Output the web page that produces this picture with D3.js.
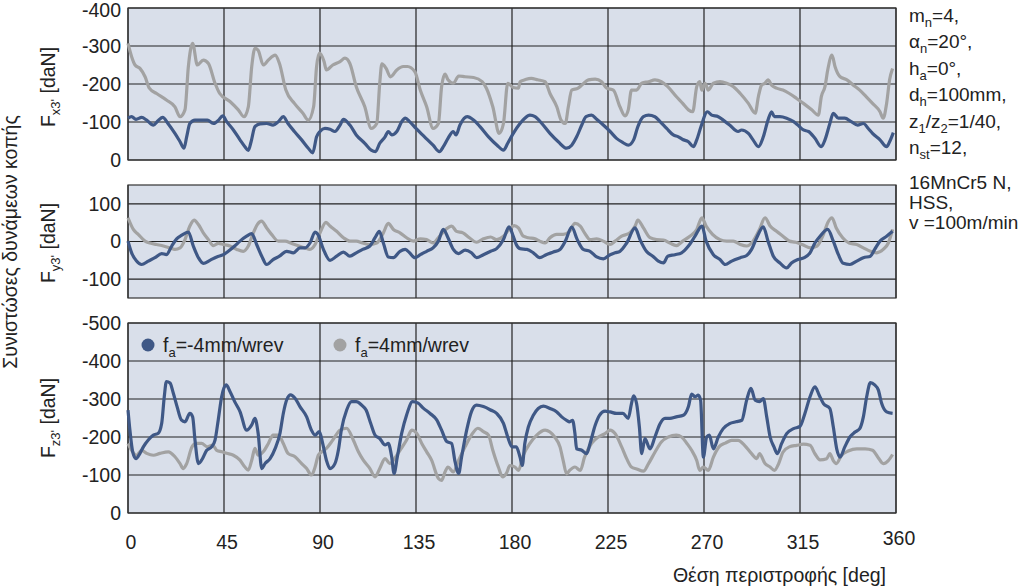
<!DOCTYPE html>
<html>
<head>
<meta charset="utf-8">
<script src="https://cdn.jsdelivr.net/npm/d3@7"></script>
<style>
  body { margin: 0; background: #fff; }
  text { font-family: "Liberation Sans", Arial, sans-serif; fill: #222; }
</style>
</head>
<body>
<svg width="1024" height="587"></svg>
<script>
// [angle deg, force daN]
let fxNeg = [[0,-110],[1.7,-114],[3.75,-107],[6.4,-112],[8.75,-105],[11.9,-92],[14.2,-104],[16.25,-112],[18.9,-95],[22,-70],[24.4,-48],[26.25,-31],[27.5,-61],[29,-96],[31.4,-105],[34.5,-105],[37.2,-105],[40,-96],[42.3,-104],[44.4,-116],[46.25,-101],[49.4,-79],[52.5,-53],[54.8,-35],[56.4,-25],[57.7,-48],[59.5,-88],[61.9,-95],[65,-96],[68,-92],[70.5,-101],[72.8,-114],[75,-96],[78,-75],[81.4,-53],[84.5,-31],[86.6,-19],[88.4,-61],[90,-75],[92.3,-83],[94.7,-81],[97,-75],[99.4,-92],[101,-107],[104,-92],[107,-66],[111,-44],[114,-26],[116,-22],[118,-44],[120.5,-61],[122,-75],[123.6,-66],[126,-75],[128.3,-101],[130,-110],[132,-101],[135,-83],[139,-61],[143,-39],[146,-22],[147.8,-35],[150,-57],[152.5,-75],[153.75,-66],[155.6,-92],[159,-114],[162,-105],[165,-88],[169,-61],[173,-39],[176,-26],[178,-44],[180.6,-70],[183.75,-96],[186,-110],[188.4,-118],[190.8,-114],[194,-96],[197.8,-70],[201.7,-48],[205.6,-31],[208,-39],[210.3,-61],[212.7,-92],[214.7,-114],[217.3,-118],[219.7,-107],[222.8,-92],[226,-75],[229,-57],[232,-46],[234.5,-39],[237,-53],[239,-88],[241.6,-114],[244,-118],[247,-114],[249.4,-101],[252.5,-83],[255.6,-66],[258,-61],[260,-54],[262.7,-48],[265,-35],[266.6,-53],[268.6,-88],[271.6,-127],[273.6,-118],[276.7,-114],[279,-105],[282,-92],[286,-75],[287.6,-79],[290.8,-70],[293,-53],[295.5,-35],[297.8,-61],[300,-105],[301.7,-127],[303,-114],[305.6,-114],[308.75,-110],[312,-101],[314,-92],[316.6,-79],[319,-75],[322,-57],[325,-35],[326.7,-53],[329,-96],[330.6,-123],[333,-110],[336,-110],[339,-101],[342,-92],[344.7,-96],[347,-83],[349,-70],[352.5,-53],[355.6,-35],[357,-48],[358.75,-72]];
let fxPos = [[0,-307],[1.7,-272],[3.3,-250],[5.6,-241],[8,-219],[10,-189],[13.4,-175],[18,-158],[22,-140],[24.4,-114],[26.7,-132],[28.3,-246],[30.3,-307],[32.5,-250],[35.3,-263],[37.7,-254],[40.8,-202],[43,-175],[47.8,-154],[51.7,-132],[54.4,-114],[56.4,-140],[58,-246],[59.5,-294],[61,-289],[63.4,-250],[65.8,-263],[69,-276],[71,-254],[74,-184],[78,-149],[82,-123],[84.5,-105],[87,-140],[88.4,-246],[89.7,-281],[91.9,-259],[93,-237],[96,-250],[99.4,-259],[101.7,-268],[104,-254],[107,-193],[111,-140],[114,-83],[116.6,-96],[118,-202],[119,-253],[121,-241],[123,-219],[126,-237],[129,-246],[131,-246],[134.5,-232],[137,-184],[140,-140],[143,-83],[145.5,-96],[147,-193],[148.6,-226],[150,-211],[152.5,-202],[155,-221],[158,-219],[162,-217],[166,-206],[168,-189],[171,-140],[174,-70],[176,-96],[178,-202],[180.6,-191],[183,-189],[183.8,-206],[186,-211],[189,-215],[192,-211],[195.5,-206],[197.8,-175],[201,-140],[203,-105],[205,-96],[206.4,-140],[208,-184],[211,-189],[212.7,-197],[215.8,-211],[219,-213],[222,-206],[224.4,-189],[227.5,-184],[230.6,-140],[233,-116],[234.5,-132],[236,-184],[238.4,-184],[240.8,-202],[244,-206],[247,-211],[250,-206],[253,-193],[257,-167],[260,-149],[262.7,-132],[264.7,-127],[266.6,-193],[268,-206],[269,-184],[270.5,-202],[272,-184],[274.4,-202],[277.5,-206],[280.6,-202],[283.8,-193],[287,-175],[290.8,-149],[294,-123],[295.5,-167],[297,-197],[298.6,-202],[300,-211],[301.7,-197],[304,-189],[307,-184],[310,-175],[313.4,-162],[316.6,-149],[320.5,-132],[323.6,-118],[325,-167],[326.7,-193],[328,-237],[330,-276],[331.4,-246],[333.8,-219],[337,-211],[340,-197],[343,-184],[346,-167],[349,-149],[352.5,-127],[354,-110],[355.6,-149],[357,-211],[358.4,-241]];

let fyNeg = [[0,1],[1.7,-30],[4,-52],[6.4,-61],[9.5,-52],[12.6,-43],[15.8,-32],[18,-35],[20.5,-12],[22.8,7],[25,16],[28.3,25],[30.6,-12],[33,-43],[35.3,-58],[38.4,-50],[41.6,-41],[44.7,-35],[47,-26],[50,-12],[52.5,1],[55.6,14],[58,21],[60.3,-8],[62.7,-39],[65,-61],[68,-48],[71,-39],[74.4,-26],[77.5,-30],[80.6,-17],[83,-17],[85.3,-4],[87.7,25],[89,19],[91.6,-21],[94.7,-50],[97.8,-39],[101,-28],[104,-39],[107,-30],[110,-21],[113.4,-12],[115.8,10],[117.8,27],[119.7,-4],[122,-41],[124.4,-43],[127.5,-26],[130,-21],[132,-30],[134.5,-43],[137,-35],[140,-26],[143,-17],[145.5,1],[147.8,32],[150,10],[152.5,-21],[155,-32],[158,-23],[161,-30],[163.4,-43],[166.6,-35],[170,-26],[172.8,-19],[176,5],[178.6,39],[180.6,14],[182,-8],[183.75,-19],[187,-21],[190,-30],[193,-43],[196,-35],[199.4,-28],[202.5,-21],[205,1],[208,38],[210.6,5],[213.4,-21],[216.6,-26],[219.7,-41],[222.8,-46],[226,-35],[228.3,-30],[230.6,-26],[233.75,-4],[237.7,36],[240,5],[243,-26],[246,-39],[248.6,-52],[251,-57],[253,-39],[256.4,-35],[259.5,-30],[262.7,-12],[265.8,14],[269,41],[271,1],[274.4,-35],[277.5,-48],[280,-61],[283,-52],[287,-43],[290,-37],[292.3,-21],[294.7,10],[297.8,39],[300,1],[302.5,-39],[305.6,-57],[308.75,-70],[311,-57],[314,-48],[317,-43],[319.7,-30],[322,-4],[324.4,14],[328,32],[330.6,1],[333,-35],[335.3,-58],[338.4,-61],[341.6,-52],[344.7,-43],[348,-39],[350,-21],[352.5,1],[355.6,14],[358.4,27]];
let fyPos = [[0,63],[2.5,32],[4.8,19],[8,1],[10.3,-4],[13.4,-8],[16.6,-12],[19.7,-17],[22,-21],[24.4,-17],[26.7,5],[29,41],[31,57],[33,45],[35.3,23],[37.7,5],[40,-11],[42.3,-5],[44.7,-8],[47.8,-12],[51,-21],[54,-26],[56.4,-12],[58.75,23],[60.6,45],[62.6,54],[65,36],[67.3,19],[70.5,1],[73.6,1],[76.7,-5],[79.8,-11],[83,-17],[85.3,-21],[87.7,-8],[90,23],[92.8,51],[94.7,41],[97.8,27],[101,10],[104,1],[107,1],[110,-4],[113,-8],[116.6,-4],[119.7,23],[122,48],[124.4,32],[127.5,23],[130.6,10],[133.75,1],[137,7],[140,5],[143,-4],[146,14],[149,32],[151.7,41],[154,27],[157,23],[160,10],[163.4,-2],[166.6,7],[170,12],[172.8,5],[176,14],[179,34],[181,42],[183,36],[185.3,14],[187.7,10],[190.8,7],[193,1],[195.5,-4],[197.8,10],[201,19],[204,19],[207,27],[209.5,48],[212,41],[214,23],[216.6,5],[219.7,7],[222.8,1],[226,-8],[228.3,1],[231.4,14],[235.3,23],[237.7,41],[239,57],[241.6,36],[244.7,10],[247.8,5],[251,4],[254,-4],[257,-11],[260,1],[263.4,14],[266.6,32],[269,63],[271,41],[274,19],[277.5,5],[280.6,1],[283.75,1],[287,-8],[290,-12],[293,1],[296,32],[298.6,63],[301,41],[304,27],[307,14],[310,1],[313,-2],[316,-8],[319.7,-17],[323,-12],[326,19],[328,50],[330,63],[332,36],[335,10],[338,-4],[341.6,-8],[344.7,-17],[348,-26],[351,-30],[354,-21],[356.4,-4],[358.4,32]];

let fzNeg = [[0,-271],[0.9,-218],[2.2,-161],[3.75,-143],[5.6,-157],[7.2,-174],[9.5,-192],[11.9,-205],[14.2,-210],[15.8,-236],[17,-306],[18,-346],[19.7,-342],[21.25,-315],[23,-280],[25,-245],[26.7,-240],[29,-262],[30.3,-253],[31.4,-192],[33,-130],[34.5,-139],[36.9,-165],[39.2,-174],[40.8,-192],[42.3,-245],[43.9,-306],[46,-337],[47.8,-320],[50,-293],[52.5,-267],[55.6,-218],[58,-232],[59.5,-249],[61,-210],[62.7,-117],[64.2,-130],[66.6,-143],[69,-170],[71.25,-210],[72.8,-262],[74.4,-298],[76.25,-311],[78.3,-302],[80.6,-280],[83.75,-253],[86,-218],[87.7,-205],[89.7,-214],[91.25,-183],[93,-139],[94.7,-117],[97,-130],[98.6,-165],[100,-218],[102.5,-271],[104.8,-293],[107,-293],[109.5,-284],[111.6,-271],[113.75,-236],[115.8,-205],[118,-196],[120.5,-179],[122,-183],[123.6,-148],[124.7,-104],[126.25,-148],[128.3,-210],[130.6,-258],[133.4,-293],[136,-289],[138.4,-276],[141.6,-262],[144.7,-245],[147,-218],[149.4,-188],[151.7,-183],[153.3,-135],[155,-104],[156.4,-148],[158.75,-218],[161,-267],[163.4,-284],[166.6,-280],[170,-271],[172.8,-262],[176,-236],[178,-200],[180,-174],[182,-174],[183.75,-147],[184.8,-125],[186,-183],[187.7,-227],[190,-257],[192.3,-275],[194.7,-281],[197.8,-275],[201,-266],[203.3,-253],[205.6,-244],[207,-240],[208.4,-244],[209.5,-209],[210.3,-169],[212.7,-165],[215,-156],[216.6,-183],[219,-231],[221,-257],[223.6,-268],[226,-266],[229,-262],[232,-262],[234.5,-249],[236,-288],[237,-308],[238.4,-288],[239.7,-227],[240.8,-156],[242.3,-196],[244.7,-169],[247,-200],[249.4,-235],[251.7,-249],[254,-249],[257,-253],[260.3,-257],[262.7,-280],[264.2,-313],[265.8,-306],[267.3,-310],[268.4,-297],[269.7,-147],[271.25,-200],[272.5,-205],[274.4,-169],[276.7,-200],[279,-222],[282,-235],[285,-240],[287.7,-244],[290,-297],[292,-328],[294,-297],[296,-293],[297.8,-301],[299.4,-253],[301,-200],[302.8,-174],[304.4,-156],[306.4,-183],[308.75,-209],[312,-222],[315,-228],[317.3,-262],[319.7,-306],[322,-332],[324,-310],[326,-288],[329,-275],[330.6,-227],[332.2,-169],[333.75,-147],[336,-174],[338.4,-200],[340.8,-213],[343,-222],[344.7,-253],[346.25,-306],[348,-343],[350,-337],[351.7,-324],[353.3,-288],[355.6,-266],[358.4,-262]];
let fzPos = [[0,-183],[1.7,-165],[4,-152],[6.4,-165],[8.75,-157],[11.9,-152],[15,-157],[18.9,-161],[22,-148],[24.4,-130],[25.9,-117],[27.5,-130],[30,-174],[32,-183],[34.5,-183],[37.2,-174],[39.7,-179],[41.6,-165],[44,-161],[46.25,-157],[49.4,-152],[52.5,-139],[54.8,-121],[56.4,-113],[58,-139],[59.5,-170],[61,-152],[63.4,-161],[65.8,-183],[68,-205],[70.5,-205],[72.8,-183],[75,-157],[78.3,-148],[81.4,-130],[83.75,-117],[86,-100],[87.7,-121],[89.2,-152],[90.8,-161],[93,-170],[96,-192],[99.4,-218],[102.5,-223],[105.6,-192],[108,-161],[110.3,-139],[113.4,-117],[115.8,-95],[118,-117],[120.5,-143],[122.8,-130],[124.4,-139],[127.5,-165],[130.6,-192],[133,-218],[135.3,-210],[137.7,-183],[140,-161],[142.3,-139],[145.5,-91],[147,-86],[148.6,-108],[150,-121],[152.5,-108],[155,-139],[158,-174],[161,-205],[164,-223],[166.6,-214],[169,-205],[171,-165],[173.6,-121],[175.6,-95],[177.5,-106],[179,-125],[181.4,-121],[183,-112],[185.3,-152],[188.4,-183],[191.6,-205],[195.5,-218],[197.8,-213],[200,-200],[202.5,-174],[204,-138],[205.6,-103],[207,-112],[209.5,-121],[212,-112],[214,-147],[217.3,-183],[220.5,-200],[223.6,-209],[226,-218],[228.3,-209],[231.4,-174],[233.75,-143],[236,-121],[238.4,-116],[241.6,-110],[244,-130],[247,-160],[250,-187],[253.3,-200],[257,-205],[259.5,-200],[262,-183],[264.2,-165],[266.6,-138],[268,-112],[269.7,-121],[272,-112],[274.4,-147],[277,-174],[280,-184],[283,-191],[286,-191],[289,-178],[292.3,-156],[294.7,-143],[296,-156],[298.6,-130],[301,-121],[303,-112],[305,-130],[307,-160],[310,-174],[313.4,-178],[316.6,-181],[319.7,-178],[322,-156],[324.4,-140],[327.5,-143],[329,-156],[330.6,-138],[332,-130],[334.5,-152],[337.6,-163],[341.6,-169],[345.5,-169],[349,-165],[351.5,-147],[354,-130],[356.4,-138],[358.4,-154]];

let angleTicks = [0, 45, 90, 135, 180, 225, 270, 315, 360];
let fxTicks = [0, -100, -200, -300, -400];
let fyTicks = [-100, 0, 100];
let fzTicks = [0, -100, -200, -300, -400, -500];

let params = [
  ['m', 'n', '=4,'], ['α', 'n', '=20°,'], ['h', 'a', '=0°,'], ['d', 'h', '=100mm,'],
  ['z', '1', '/z', '2', '=1/40,'], ['n', 'st', '=12,'],
  ['16MnCr5 N,'], ['HSS,'], ['v =100m/min']
];
let legendItems = ['=-4mm/wrev', '=4mm/wrev'];

let blue = '#3f5886';
let grey = '#a2a2a2';
let svg = d3.select('svg');

let x = d3.scaleLinear().domain([0, 360]).range([128, 896]);

let panels = [
  { top: 8, bottom: 160, domain: [0, -400], ticks: fxTicks, neg: fxNeg, pos: fxPos, sub: "x3'", labelY: 87 },
  { top: 185, bottom: 298, domain: [-150, 150], ticks: fyTicks, neg: fyNeg, pos: fyPos, sub: "y3'", labelY: 243 },
  { top: 323, bottom: 513, domain: [0, -500], ticks: fzTicks, neg: fzNeg, pos: fzPos, sub: "z3'", labelY: 418 }
];

panels.forEach(p => {
  let y = d3.scaleLinear().domain(p.domain).range([p.bottom, p.top]);
  let g = svg.append('g');

  g.append('rect')
    .attr('x', x(0)).attr('y', p.top)
    .attr('width', x(360) - x(0)).attr('height', p.bottom - p.top)
    .attr('fill', '#d9dfea');

  g.selectAll('.hgrid').data(p.ticks).enter().append('line')
    .attr('x1', x(0)).attr('x2', x(360))
    .attr('y1', d => y(d)).attr('y2', d => y(d))
    .attr('stroke', '#222').attr('stroke-width', 1.2);

  g.selectAll('.vgrid').data(angleTicks).enter().append('line')
    .attr('x1', d => x(d)).attr('x2', d => x(d))
    .attr('y1', p.top).attr('y2', p.bottom)
    .attr('stroke', '#222').attr('stroke-width', 1.2);

  g.append('rect')
    .attr('x', x(0)).attr('y', p.top)
    .attr('width', x(360) - x(0)).attr('height', p.bottom - p.top)
    .attr('fill', 'none').attr('stroke', '#333').attr('stroke-width', 1.2);

  let line = d3.line()
    .x(d => x(d[0]))
    .y(d => y(d[1]))
    .curve(d3.curveMonotoneX);

  g.append('path').datum(p.pos)
    .attr('d', line).attr('fill', 'none')
    .attr('stroke', grey).attr('stroke-width', 3.2).attr('stroke-linejoin', 'round');
  g.append('path').datum(p.neg)
    .attr('d', line).attr('fill', 'none')
    .attr('stroke', blue).attr('stroke-width', 3.2).attr('stroke-linejoin', 'round');

  let axis = g.append('g')
    .attr('transform', `translate(${x(0)},0)`)
    .call(d3.axisLeft(y).tickValues(p.ticks).tickSize(0).tickPadding(7).tickFormat(d => String(d)));
  axis.select('.domain').remove();
  axis.selectAll('text').style('font-size', '19.5px').attr('fill', '#222');
  // keep the top label of the first panel inside the page
  axis.selectAll('text').filter(d => y(d) < 12).attr('dy', '0.45em');

  let lab = g.append('text')
    .attr('transform', `translate(55,${p.labelY}) rotate(-90)`)
    .attr('text-anchor', 'middle')
    .style('font-size', '19.5px');
  lab.append('tspan').text('F');
  lab.append('tspan').attr('dy', 5).style('font-size', '13px').text(p.sub);
  lab.append('tspan').attr('dy', -5).text(' [daN]');
});

// angle axis labels
svg.append('g').selectAll('text').data(angleTicks).enter().append('text')
  .attr('x', d => x(d) + 3)
  .attr('y', d => d === 360 ? 545 : 549)
  .attr('text-anchor', 'middle')
  .style('font-size', '19.5px')
  .text(d => d);

svg.append('text')
  .attr('x', 886).attr('y', 582)
  .attr('text-anchor', 'end')
  .style('font-size', '19.5px')
  .text('Θέση περιστροφής [deg]');

svg.append('text')
  .attr('transform', 'translate(17,242) rotate(-90)')
  .attr('text-anchor', 'middle')
  .style('font-size', '19.5px')
  .text('Συνιστώσες δυνάμεων κοπής');

// legend in lower panel
let legend = svg.append('g');
[blue, grey].forEach((c, i) => {
  let lx = [148, 340][i];
  legend.append('circle').attr('cx', lx).attr('cy', 345).attr('r', 6.5).attr('fill', c);
  let t = legend.append('text').attr('x', lx + 15).attr('y', 352).style('font-size', '19.5px');
  t.append('tspan').text('f');
  t.append('tspan').attr('dy', 5).style('font-size', '13px').text('a');
  t.append('tspan').attr('dy', -5).text(legendItems[i]);
});

// process parameters on the right
let baselines = [22, 48, 75, 101, 128, 154, 189, 209, 229];
params.forEach((parts, i) => {
  let t = svg.append('text').attr('x', 909).attr('y', baselines[i]).style('font-size', '19px');
  if (parts.length === 1) { t.text(parts[0]); return; }
  parts.forEach((s, k) => {
    let isSub = k % 2 === 1;
    t.append('tspan')
      .attr('dy', k === 0 ? 0 : (isSub ? 5 : -5))
      .style('font-size', isSub ? '13px' : '19px')
      .text(s);
  });
});
</script>
</body>
</html>
